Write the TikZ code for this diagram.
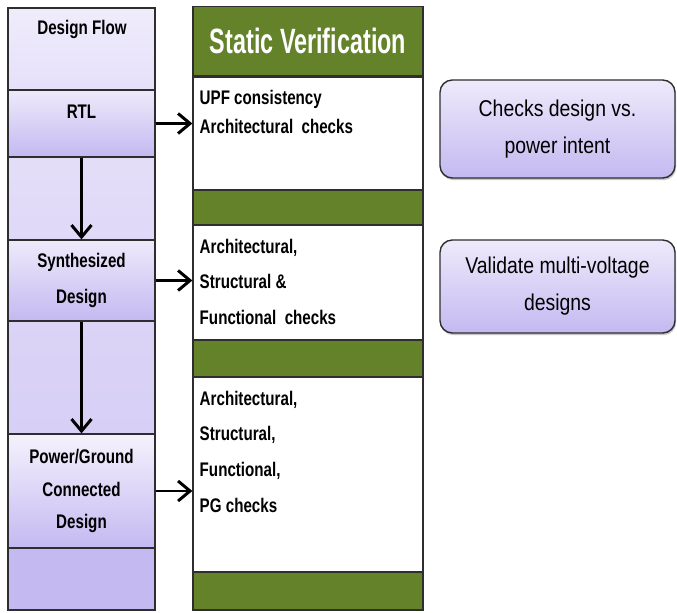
\documentclass[tikz,border=0pt]{standalone}
\usepackage{fontspec}
\setmainfont{Liberation Sans}
\newfontfamily\narrowsf[FakeStretch=0.77]{Liberation Sans}
\newfontfamily\titlesf[FakeStretch=0.665]{Liberation Sans}
\newfontfamily\sidesf[FakeStretch=0.85]{Liberation Sans}
\usetikzlibrary{calc,positioning,arrows.meta,shadows}
\definecolor{vgreen}{HTML}{638229}
\definecolor{edge}{HTML}{2E2E2E}
\definecolor{lavtop}{HTML}{EEEAFB}
\definecolor{lavbot}{HTML}{C4B9F1}
\tikzset{
  seg/.style={draw=edge,line width=0.7pt,minimum width=2.94cm,inner sep=0pt,align=center,font=\narrowsf\bfseries\fontsize{11.2}{#1}\selectfont},
  seg/.default=20,
  lbl/.style={inner sep=0pt,font=\narrowsf\bfseries\fontsize{11.2}{20}\selectfont},
  grn/.style={draw=edge,line width=0.7pt,fill=vgreen,minimum width=4.6cm,inner sep=0pt},
  chkbox/.style={draw=edge,line width=0.7pt,fill=white,minimum width=4.6cm,inner sep=0pt},
  chk/.style={anchor=north west,inner sep=0pt,align=left,font=\narrowsf\bfseries\fontsize{11.2}{#1}\selectfont},
  chk/.default=20.4,
  side/.style={draw=edge,line width=0.8pt,rounded corners=7pt,top color=lavtop,bottom color=lavbot,minimum width=4.7cm,align=center,font=\sidesf\fontsize{13}{21}\selectfont,drop shadow={shadow xshift=0.6pt,shadow yshift=-1.2pt,opacity=0.45}},
  flow/.style={-{Straight Barb[length=2.4mm,width=4mm]},line width=1.7pt},
}

\begin{document}
\begin{tikzpicture}
\useasboundingbox (0,0) rectangle (13.54,-12.24);
% design flow column
\node[seg,minimum height=1.64cm,top color=lavtop!90!white,bottom color=lavtop!80!lavbot] (df) at (1.63,-0.98) {};
\node[seg,minimum height=1.34cm,top color=lavtop,bottom color=lavbot] (rtl) at (1.63,-2.47) {};
\node[seg,minimum height=1.66cm,top color=lavtop!75!lavbot,bottom color=lavtop!65!lavbot] (e1) at (1.63,-3.97) {};
\node[seg,minimum height=1.62cm,top color=lavtop,bottom color=lavbot] (syn) at (1.63,-5.61) {Synthesized\\Design};
\node[seg,minimum height=2.26cm,top color=lavtop!55!lavbot,bottom color=lavtop!45!lavbot] (e2) at (1.63,-7.55) {};
\node[seg=18.5,minimum height=2.28cm,top color=lavtop!60!white,bottom color=lavbot] (pg) at (1.63,-9.82) {Power/Ground\\Connected\\Design};
\node[seg,minimum height=1.24cm,fill=lavbot] (e3) at (1.63,-11.58) {};
\node[lbl] (dflbl) at (1.64,-0.58) {Design Flow};
\node[lbl] (rtllbl) at (1.63,-2.24) {RTL};

% static verification column
\node[grn,minimum height=1.38cm,text=white,font=\titlesf\bfseries\fontsize{20}{22}\selectfont] (hdr) at (6.16,-0.82) {Static Verification};
\node[chkbox,minimum height=2.26cm] (c1) at (6.16,-2.67) {};
\node[grn,minimum height=0.7cm] (g1) at (6.16,-4.15) {};
\node[chkbox,minimum height=2.3cm] (c2) at (6.16,-5.65) {};
\node[grn,minimum height=0.74cm] (g2) at (6.16,-7.17) {};
\node[chkbox,minimum height=3.9cm] (c3) at (6.16,-9.49) {};
\node[grn,minimum height=0.76cm] (g3) at (6.16,-11.82) {};
\node[chk=16.4] (t1) at ($(c1.north west)+(0.14,-0.27)$) {UPF consistency\\Architectural\ \ checks};
\node[chk] (t2) at ($(c2.north west)+(0.14,-0.28)$) {Architectural,\\Structural \&\\Functional\ \ checks};
\node[chk] (t3) at ($(c3.north west)+(0.14,-0.28)$) {Architectural,\\Structural,\\Functional,\\PG checks};

% notes
\node[side,minimum height=1.96cm] (n1) at (11.15,-2.58) {Checks design vs.\\power intent};
\node[side,minimum height=1.86cm] (n2) at (11.15,-5.73) {Validate multi-voltage\\designs};

\draw[flow] (rtl) -- (syn); \draw[flow] (syn) -- (pg);
\draw[flow] (rtl.east) -- (rtl.east -| c1.west);
\draw[flow] (syn.east) -- (syn.east -| c2.west);
\draw[flow] (pg.east) -- (pg.east -| c3.west);
\end{tikzpicture}
\end{document}
